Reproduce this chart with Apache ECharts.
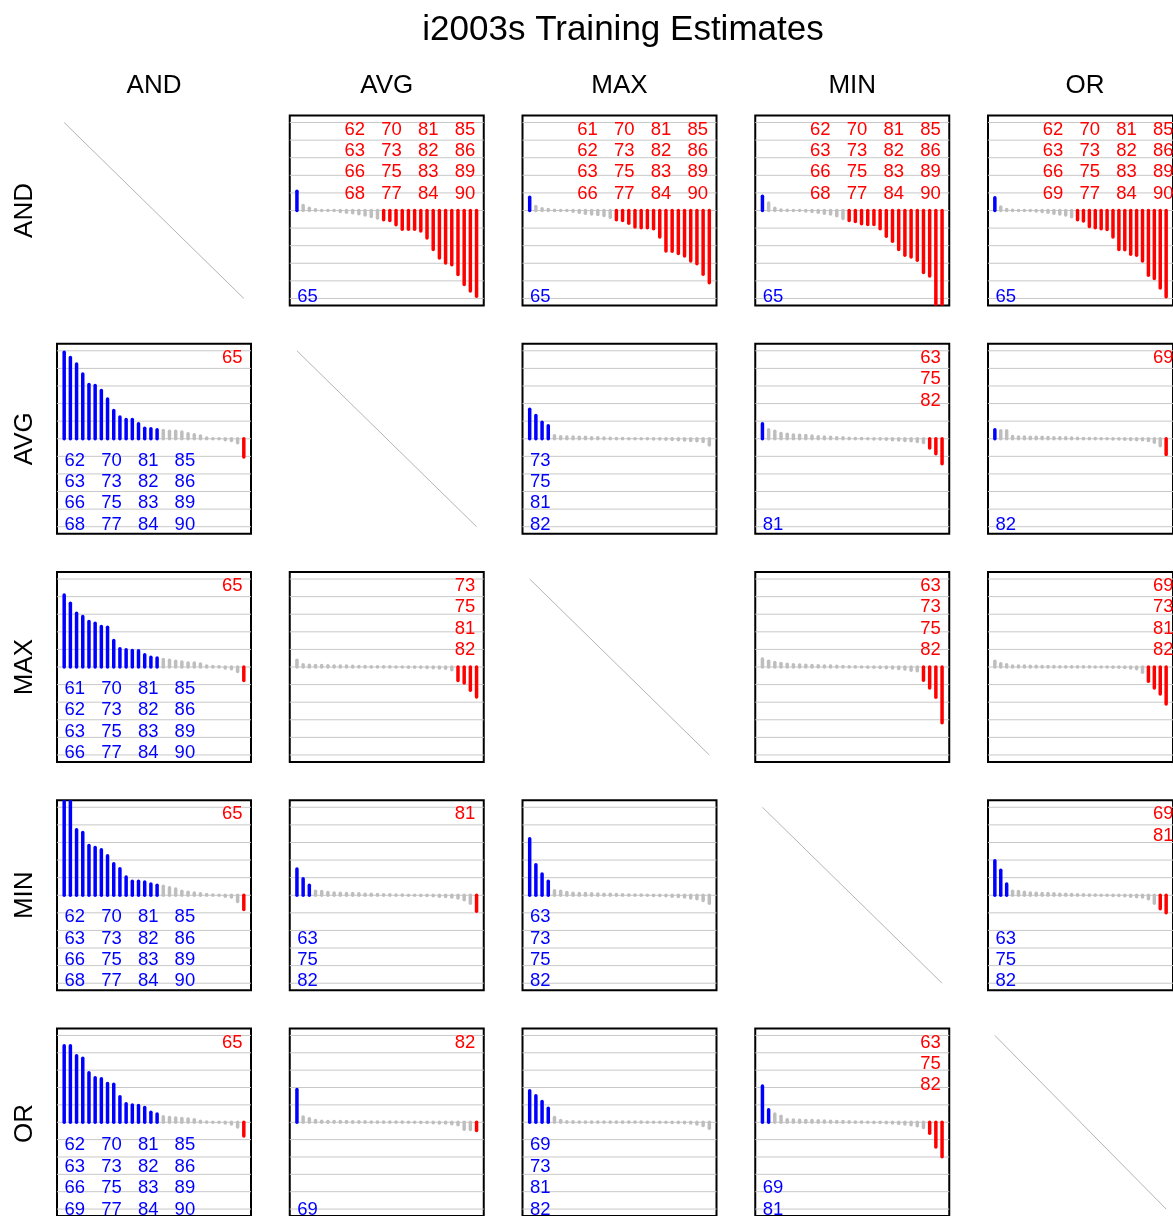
<!DOCTYPE html>
<html>
<head>
<meta charset="utf-8">
<title>i2003s Training Estimates</title>
<script src="https://cdn.jsdelivr.net/npm/echarts@6/dist/echarts.min.js"></script>
<style>
  html, body { margin: 0; padding: 0; background: #ffffff; }
  #chart { width: 1173px; height: 1216px; }
</style>
</head>
<body>
<div id="chart"></div>
<script>
// Combination rules compared pairwise (row rule vs column rule)
const methods = ['AND', 'AVG', 'MAX', 'MIN', 'OR'];
const gridLevels = [-5, -4, -3, -2, -1, 0, 1, 2, 3, 4, 5];

// Per-subject estimates for each pair, sorted from largest to smallest.
// *_up: subjects significantly above zero, *_down: significantly below zero.
const AND_AVG_est = [1.10, 0.28, 0.13, 0.04, 0, 0, 0, -0.06, -0.10, -0.13, -0.19, -0.25, -0.34, -0.42, -0.53, -0.57, -0.81, -1.06, -1.06, -1.06, -1.17, -1.57, -2.21, -2.70, -2.98, -3.08, -3.64, -4.21, -4.58, -4.87];
const AND_AVG_up = [65];
const AND_AVG_down = [62, 63, 66, 68, 70, 73, 75, 77, 81, 82, 83, 84, 85, 86, 89, 90];

const AND_MAX_est = [0.75, 0.23, 0.10, 0.05, 0.02, 0, 0, -0.04, -0.10, -0.15, -0.20, -0.23, -0.28, -0.38, -0.53, -0.57, -0.72, -0.94, -0.98, -0.98, -1.04, -1.51, -2.30, -2.32, -2.45, -2.58, -2.87, -3.02, -3.62, -4.11];
const AND_MAX_up = [65];
const AND_MAX_down = [61, 62, 63, 66, 70, 73, 75, 77, 81, 82, 83, 84, 85, 86, 89, 90];

const AND_MIN_est = [0.81, 0.42, 0.13, 0.03, 0.01, 0, 0, -0.03, -0.05, -0.10, -0.15, -0.20, -0.30, -0.45, -0.57, -0.62, -0.75, -0.79, -0.79, -1.04, -1.47, -1.75, -2.21, -2.55, -2.64, -2.83, -3.53, -3.72, -5.90, -6.20];
const AND_MIN_up = [65];
const AND_MIN_down = [62, 63, 66, 68, 70, 73, 75, 77, 81, 82, 83, 84, 85, 86, 89, 90];

const AND_OR_est = [0.72, 0.20, 0.06, 0.02, 0, 0, 0, -0.03, -0.05, -0.10, -0.15, -0.20, -0.25, -0.35, -0.53, -0.60, -0.91, -0.98, -1.04, -1.08, -1.51, -2.21, -2.23, -2.49, -2.55, -2.87, -3.68, -3.87, -4.40, -4.90];
const AND_OR_up = [65];
const AND_OR_down = [62, 63, 66, 69, 70, 73, 75, 77, 81, 82, 83, 84, 85, 86, 89, 90];

const AVG_AND_est = [4.91, 4.62, 4.25, 3.68, 3.08, 3.02, 2.74, 2.26, 1.60, 1.23, 1.09, 1.09, 0.85, 0.60, 0.57, 0.51, 0.47, 0.42, 0.42, 0.38, 0.28, 0.23, 0.15, 0.04, 0, 0, -0.05, -0.10, -0.23, -1.04];
const AVG_AND_up = [62, 63, 66, 68, 70, 73, 75, 77, 81, 82, 83, 84, 85, 86, 89, 90];
const AVG_AND_down = [65];

const AVG_MAX_est = [1.68, 1.32, 0.94, 0.74, 0.17, 0.12, 0.10, 0.10, 0.08, 0.08, 0.06, 0.05, 0.04, 0.03, 0.02, 0.01, 0, 0, 0, 0, -0.01, -0.02, -0.03, -0.04, -0.05, -0.07, -0.10, -0.12, -0.15, -0.35];
const AVG_MAX_up = [73, 75, 81, 82];
const AVG_MAX_down = [];

const AVG_MIN_est = [0.85, 0.51, 0.43, 0.30, 0.25, 0.22, 0.20, 0.18, 0.15, 0.12, 0.10, 0.08, 0.06, 0.05, 0.03, 0.02, 0.01, 0, -0.01, -0.02, -0.03, -0.05, -0.07, -0.10, -0.12, -0.15, -0.22, -0.53, -0.85, -1.42];
const AVG_MIN_up = [81];
const AVG_MIN_down = [63, 75, 82];

const AVG_OR_est = [0.51, 0.45, 0.45, 0.13, 0.10, 0.10, 0.09, 0.08, 0.08, 0.07, 0.06, 0.05, 0.05, 0.04, 0.03, 0.02, 0.02, 0.01, 0, 0, -0.01, -0.02, -0.03, -0.04, -0.05, -0.06, -0.10, -0.20, -0.40, -0.90];
const AVG_OR_up = [82];
const AVG_OR_down = [69];

const MAX_AND_est = [4.09, 3.62, 3.06, 2.87, 2.58, 2.49, 2.30, 2.26, 1.51, 1.04, 0.98, 0.94, 0.92, 0.70, 0.55, 0.51, 0.42, 0.38, 0.32, 0.28, 0.23, 0.23, 0.17, 0.05, 0.03, 0.02, -0.05, -0.10, -0.25, -0.77];
const MAX_AND_up = [61, 62, 63, 66, 70, 73, 75, 77, 81, 82, 83, 84, 85, 86, 89, 90];
const MAX_AND_down = [65];

const MAX_AVG_est = [0.38, 0.13, 0.10, 0.09, 0.08, 0.07, 0.06, 0.05, 0.05, 0.04, 0.03, 0.03, 0.02, 0.02, 0.01, 0.01, 0, 0, -0.01, -0.01, -0.02, -0.03, -0.04, -0.05, -0.07, -0.15, -0.77, -0.91, -1.32, -1.70];
const MAX_AVG_up = [];
const MAX_AVG_down = [73, 75, 81, 82];

const MAX_MIN_est = [0.45, 0.32, 0.26, 0.20, 0.15, 0.13, 0.11, 0.10, 0.08, 0.07, 0.06, 0.05, 0.04, 0.03, 0.02, 0.01, 0, -0.01, -0.02, -0.03, -0.04, -0.06, -0.08, -0.12, -0.18, -0.22, -0.75, -1.19, -1.72, -3.17];
const MAX_MIN_up = [];
const MAX_MIN_down = [63, 73, 75, 82];

const MAX_OR_est = [0.32, 0.19, 0.13, 0.06, 0.05, 0.05, 0.04, 0.04, 0.03, 0.03, 0.03, 0.02, 0.02, 0.02, 0.01, 0.01, 0.01, 0, 0, 0, -0.01, -0.02, -0.03, -0.05, -0.10, -0.30, -0.81, -1.19, -1.53, -2.10];
const MAX_OR_up = [];
const MAX_OR_down = [69, 73, 81, 82];

const MIN_AND_est = [5.80, 5.60, 3.72, 3.57, 2.83, 2.72, 2.58, 2.25, 1.79, 1.51, 1.04, 0.79, 0.79, 0.75, 0.64, 0.57, 0.51, 0.42, 0.36, 0.23, 0.17, 0.13, 0.08, 0.04, 0.01, 0, -0.05, -0.10, -0.35, -0.81];
const MIN_AND_up = [62, 63, 66, 68, 70, 73, 75, 77, 81, 82, 83, 84, 85, 86, 89, 90];
const MIN_AND_down = [65];

const MIN_AVG_est = [1.49, 0.94, 0.57, 0.23, 0.22, 0.15, 0.13, 0.12, 0.10, 0.10, 0.08, 0.06, 0.05, 0.04, 0.03, 0.03, 0.02, 0.01, 0, 0, -0.01, -0.02, -0.03, -0.05, -0.07, -0.10, -0.15, -0.25, -0.45, -0.91];
const MIN_AVG_up = [63, 75, 82];
const MIN_AVG_down = [81];

const MIN_MAX_est = [3.21, 1.74, 1.21, 0.79, 0.25, 0.23, 0.15, 0.12, 0.10, 0.10, 0.08, 0.07, 0.06, 0.05, 0.04, 0.03, 0.02, 0.02, 0.01, 0, -0.01, -0.02, -0.03, -0.05, -0.07, -0.10, -0.15, -0.20, -0.30, -0.45];
const MIN_MAX_up = [63, 73, 75, 82];
const MIN_MAX_down = [];

const MIN_OR_est = [1.96, 1.42, 0.64, 0.23, 0.22, 0.17, 0.13, 0.12, 0.10, 0.10, 0.08, 0.06, 0.05, 0.04, 0.03, 0.03, 0.02, 0.01, 0, 0, -0.01, -0.02, -0.03, -0.05, -0.08, -0.10, -0.20, -0.45, -0.77, -1.00];
const MIN_OR_up = [63, 75, 82];
const MIN_OR_down = [69, 81];

const OR_AND_est = [4.40, 4.40, 3.83, 3.68, 2.85, 2.57, 2.51, 2.23, 2.19, 1.47, 1.06, 1.00, 0.96, 0.85, 0.58, 0.47, 0.32, 0.28, 0.25, 0.21, 0.19, 0.15, 0.06, 0.02, 0, 0, -0.04, -0.10, -0.28, -0.79];
const OR_AND_up = [62, 63, 66, 69, 70, 73, 75, 77, 81, 82, 83, 84, 85, 86, 89, 90];
const OR_AND_down = [65];

const OR_AVG_est = [1.89, 0.30, 0.20, 0.10, 0.06, 0.05, 0.05, 0.04, 0.04, 0.03, 0.03, 0.03, 0.02, 0.02, 0.02, 0.01, 0.01, 0.01, 0, 0, -0.01, -0.02, -0.03, -0.04, -0.05, -0.08, -0.15, -0.40, -0.42, -0.47];
const OR_AVG_up = [69];
const OR_AVG_down = [82];

const OR_MAX_est = [1.81, 1.53, 1.19, 0.81, 0.28, 0.10, 0.03, 0.03, 0.02, 0.02, 0.02, 0.02, 0.02, 0.01, 0.01, 0.01, 0.01, 0.01, 0.01, 0, 0, 0, 0, -0.01, -0.02, -0.03, -0.05, -0.10, -0.18, -0.35];
const OR_MAX_up = [69, 73, 81, 82];
const OR_MAX_down = [];

const OR_MIN_est = [2.09, 0.72, 0.47, 0.34, 0.15, 0.13, 0.12, 0.10, 0.10, 0.08, 0.07, 0.06, 0.05, 0.04, 0.03, 0.02, 0.01, 0, -0.01, -0.02, -0.03, -0.05, -0.07, -0.10, -0.15, -0.20, -0.30, -0.64, -1.42, -1.98];
const OR_MIN_up = [69, 81];
const OR_MIN_down = [63, 75, 82];

const panelData = {
  AND_AVG: { est: AND_AVG_est, up: AND_AVG_up, down: AND_AVG_down },
  AND_MAX: { est: AND_MAX_est, up: AND_MAX_up, down: AND_MAX_down },
  AND_MIN: { est: AND_MIN_est, up: AND_MIN_up, down: AND_MIN_down },
  AND_OR:  { est: AND_OR_est,  up: AND_OR_up,  down: AND_OR_down },
  AVG_AND: { est: AVG_AND_est, up: AVG_AND_up, down: AVG_AND_down },
  AVG_MAX: { est: AVG_MAX_est, up: AVG_MAX_up, down: AVG_MAX_down },
  AVG_MIN: { est: AVG_MIN_est, up: AVG_MIN_up, down: AVG_MIN_down },
  AVG_OR:  { est: AVG_OR_est,  up: AVG_OR_up,  down: AVG_OR_down },
  MAX_AND: { est: MAX_AND_est, up: MAX_AND_up, down: MAX_AND_down },
  MAX_AVG: { est: MAX_AVG_est, up: MAX_AVG_up, down: MAX_AVG_down },
  MAX_MIN: { est: MAX_MIN_est, up: MAX_MIN_up, down: MAX_MIN_down },
  MAX_OR:  { est: MAX_OR_est,  up: MAX_OR_up,  down: MAX_OR_down },
  MIN_AND: { est: MIN_AND_est, up: MIN_AND_up, down: MIN_AND_down },
  MIN_AVG: { est: MIN_AVG_est, up: MIN_AVG_up, down: MIN_AVG_down },
  MIN_MAX: { est: MIN_MAX_est, up: MIN_MAX_up, down: MIN_MAX_down },
  MIN_OR:  { est: MIN_OR_est,  up: MIN_OR_up,  down: MIN_OR_down },
  OR_AND:  { est: OR_AND_est,  up: OR_AND_up,  down: OR_AND_down },
  OR_AVG:  { est: OR_AVG_est,  up: OR_AVG_up,  down: OR_AVG_down },
  OR_MAX:  { est: OR_MAX_est,  up: OR_MAX_up,  down: OR_MAX_down },
  OR_MIN:  { est: OR_MIN_est,  up: OR_MIN_up,  down: OR_MIN_down }
};

// ---- layout and styling ----
const FONT = '"Liberation Sans", Arial, Helvetica, sans-serif';
const N = 30;
const XPAD = 0.04 * (N - 1);
const XMIN = 1 - XPAD, XMAX = N + XPAD;
const YLIM = 5.4;

const PANEL_LEFT0 = 57, PANEL_DX = 232.75;
const PANEL_TOP0 = 115.5, PANEL_DY = 228.25;
const PANEL_W = 194, PANEL_H = 190;

const LABEL_SIZE = 18.5;
const LABEL_COL_STEP = 36.7;
const LABEL_ROW_STEP = 21.4;

const BLUE = '#0000ff', RED = '#ff0000', GREY = '#bebebe';
const BAR_COLORS = [BLUE, GREY, RED];

function kindOf(i, p) {
  if (i < p.up.length) return 0;
  if (i >= p.est.length - p.down.length) return 2;
  return 1;
}

function barItem(params, api) {
  const x = api.value(0);
  const v = Math.max(-YLIM, Math.min(YLIM, api.value(1)));
  const kind = api.value(2);
  const base = api.coord([x, 0]);
  const tip = api.coord([x, v]);
  let y2 = tip[1];
  if (Math.abs(y2 - base[1]) < 0.05) y2 = base[1] - 0.05;
  return {
    type: 'line',
    shape: { x1: base[0], y1: base[1], x2: tip[0], y2: y2 },
    style: { stroke: BAR_COLORS[kind], lineWidth: 3.5, lineCap: 'round', fill: null }
  };
}

function gridLineItem(params, api) {
  const v = api.value(1);
  const a = api.coord([XMIN, v]);
  const b = api.coord([XMAX, v]);
  return {
    type: 'line',
    shape: { x1: a[0], y1: a[1], x2: b[0], y2: b[1] },
    style: { stroke: '#c8c8c8', lineWidth: 1, fill: null }
  };
}

const grids = [], xAxes = [], yAxes = [], series = [], graphics = [];

function addText(x, y, text, size, color, align, rotation) {
  graphics.push({
    type: 'text', x: x, y: y, rotation: rotation || 0, silent: true, z: 10,
    style: {
      text: text, fill: color, font: size + 'px ' + FONT,
      textAlign: align || 'center', textVerticalAlign: 'middle'
    }
  });
}

methods.forEach((rowName, r) => {
  methods.forEach((colName, c) => {
    const idx = grids.length;
    const left = PANEL_LEFT0 + PANEL_DX * c;
    const top = PANEL_TOP0 + PANEL_DY * r;
    const diag = r === c;
    grids.push({
      left: left, top: top, width: PANEL_W, height: PANEL_H,
      show: !diag, borderColor: '#000000', borderWidth: 2,
      backgroundColor: 'transparent'
    });
    xAxes.push({ type: 'value', gridIndex: idx, min: XMIN, max: XMAX, show: false });
    yAxes.push({ type: 'value', gridIndex: idx, min: -YLIM, max: YLIM, show: false });

    if (diag) {
      // a rule is not compared with itself: the cell is struck through
      const diagonal = [[1, Math.max(...gridLevels)], [N, Math.min(...gridLevels)]];
      series.push({
        type: 'line', xAxisIndex: idx, yAxisIndex: idx, data: diagonal,
        symbol: 'none', silent: true,
        lineStyle: { color: '#b4b4b4', width: 1 }
      });
      return;
    }

    const p = panelData[rowName + '_' + colName];
    series.push({
      type: 'custom', xAxisIndex: idx, yAxisIndex: idx, silent: true, z: 1,
      data: gridLevels.map(v => [0, v]),
      renderItem: gridLineItem
    });
    series.push({
      type: 'custom', xAxisIndex: idx, yAxisIndex: idx, silent: true, z: 2, clip: true,
      data: p.est.map((v, i) => [i + 1, v, kindOf(i, p)]),
      renderItem: barItem
    });

    // subjects significantly below zero: top-right, column by column
    const right = left + PANEL_W - 8.5;
    const nDownCols = Math.ceil(p.down.length / 4);
    p.down.forEach((id, k) => {
      const col = Math.floor(k / 4), row = k % 4;
      addText(right - (nDownCols - 1 - col) * LABEL_COL_STEP, top + 14 + row * LABEL_ROW_STEP,
        String(id), LABEL_SIZE, RED, 'right');
    });
    // subjects significantly above zero: bottom-left, column by column
    const bottom = top + PANEL_H;
    const x0 = left + 7.5;
    for (let col = 0; col * 4 < p.up.length; col++) {
      const items = p.up.slice(col * 4, col * 4 + 4);
      items.forEach((id, k) => {
        const row = 4 - items.length + k;
        addText(x0 + col * LABEL_COL_STEP, bottom - 9 - (3 - row) * LABEL_ROW_STEP,
          String(id), LABEL_SIZE, BLUE, 'left');
      });
    }
  });
});

// titles
addText(623, 30, 'i2003s Training Estimates', 35, '#000000', 'center');
methods.forEach((m, c) => addText(PANEL_LEFT0 + PANEL_DX * c + PANEL_W / 2, 85.5, m, 26, '#000000', 'center'));
methods.forEach((m, r) => addText(25, PANEL_TOP0 + PANEL_DY * r + PANEL_H / 2, m, 26, '#000000', 'center', Math.PI / 2));

const chart = echarts.init(document.getElementById('chart'), null, { renderer: 'canvas' });
chart.setOption({
  animation: false,
  backgroundColor: '#ffffff',
  grid: grids,
  xAxis: xAxes,
  yAxis: yAxes,
  series: series,
  graphic: { elements: graphics }
});
</script>
</body>
</html>
